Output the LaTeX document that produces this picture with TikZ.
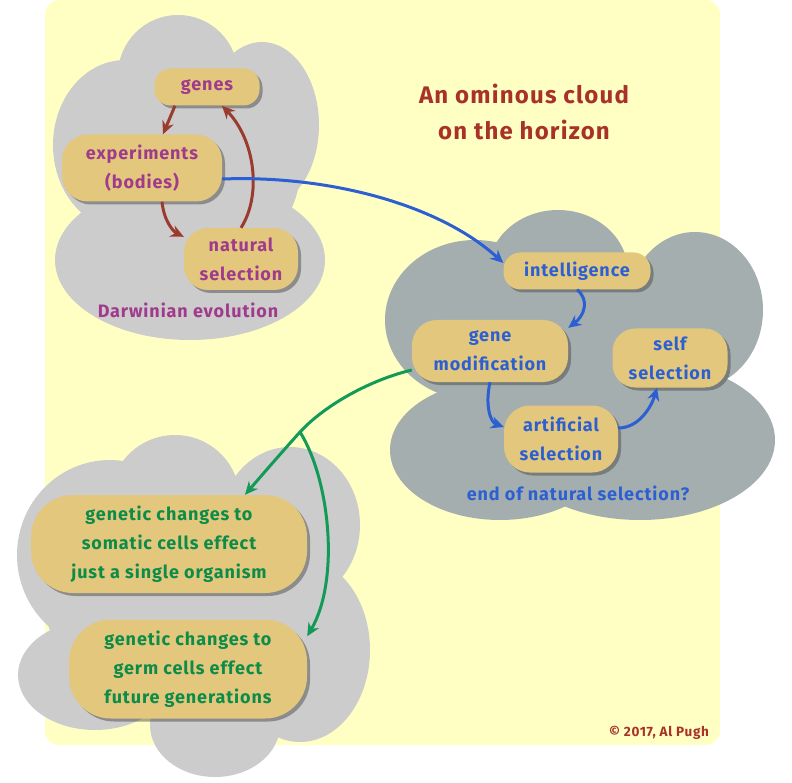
\documentclass[tikz,border=0pt]{standalone}
\usepackage{fontspec}
\setmainfont{Fira Sans}[LetterSpace=5]
\usetikzlibrary{arrows.meta}
\usetikzlibrary{shadows}

\definecolor{paper}{RGB}{255,255,195}
\definecolor{cloudgray}{RGB}{204,204,204}
\definecolor{cloudslate}{RGB}{165,174,174}
\definecolor{boxtan}{RGB}{227,199,125}
\definecolor{darwpurple}{RGB}{160,58,140}
\definecolor{titlered}{RGB}{168,50,42}
\definecolor{darwbrown}{RGB}{155,59,46}
\definecolor{intelblue}{RGB}{44,96,210}
\definecolor{genegreen}{RGB}{12,140,72}
\definecolor{linkgreen}{RGB}{19,154,86}

\tikzset{
  cell/.style={fill=boxtan, align=center, inner sep=0pt,
    font=\bfseries\fontsize{18}{29}\selectfont,
    drop shadow={shadow xshift=3pt, shadow yshift=-3pt, opacity=0.45, fill=black!75}},
  caption/.style={font=\bfseries\fontsize{18}{29}\selectfont},
  darwlink/.style={draw=darwbrown, line width=3pt, -{Stealth[length=13pt,width=12pt]}},
  intellink/.style={draw=intelblue, line width=3pt, -{Stealth[length=13pt,width=12pt]}},
  genelink/.style={draw=linkgreen, line width=3pt, -{Stealth[length=13pt,width=12pt]}}
}

\begin{document}
\begin{tikzpicture}[x=1pt, y=-1pt]
\useasboundingbox (0,0) rectangle (792,783);

% background sheet
\fill[paper, rounded corners=14pt] (45,0) rectangle (720,745);

% cloud of Darwinian evolution
\fill[cloudgray] (178,75) ellipse [x radius=60, y radius=60];
\fill[cloudgray] (262,125) ellipse [x radius=57, y radius=83];
\fill[cloudgray] (125,145) ellipse [x radius=72, y radius=85];
\fill[cloudgray] (190,260) ellipse [x radius=135, y radius=80];
\fill[cloudgray] (190,170) ellipse [x radius=110, y radius=100];

% the ominous cloud
\fill[cloudslate] (558,272) ellipse [x radius=70, y radius=62];
\fill[cloudslate] (695,310) ellipse [x radius=68, y radius=78];
\fill[cloudslate] (475,320) ellipse [x radius=90, y radius=80];
\fill[cloudslate] (640,440) ellipse [x radius=135, y radius=80];
\fill[cloudslate] (500,450) ellipse [x radius=110, y radius=70];
\fill[cloudslate] (580,360) ellipse [x radius=150, y radius=100];

% cloud of genetic changes
\fill[cloudgray] (175,500) ellipse [x radius=65, y radius=65];
\fill[cloudgray] (290,525) ellipse [x radius=70, y radius=78];
\fill[cloudgray] (110,555) ellipse [x radius=93, y radius=95];
\fill[cloudgray] (300,650) ellipse [x radius=70, y radius=92];
\fill[cloudgray] (95,675) ellipse [x radius=77, y radius=55];
\fill[cloudgray] (215,725) ellipse [x radius=65, y radius=52];
\fill[cloudgray] (195,600) ellipse [x radius=150, y radius=120];

% Darwinian loop
\node[cell, text=darwpurple, minimum width=105pt, minimum height=37pt, rounded corners=16pt] (genes) at (207,87) {genes};
\node[cell, text=darwpurple, minimum width=160pt, minimum height=67pt, rounded corners=26pt] (exper) at (142,168) {experiments\\(bodies)};
\node[cell, text=darwpurple, minimum width=114pt, minimum height=62pt, rounded corners=24pt] (natsel) at (241,259) {natural\\selection};
\node[caption, text=darwpurple] (darwin) at (188,310) {Darwinian evolution};

\node[font=\bfseries\fontsize{24}{36}\selectfont, text=titlered, align=center] (title) at (524,112) {An ominous cloud\\on the horizon};

% intelligence loop
\node[cell, text=intelblue, minimum width=147pt, minimum height=37pt, rounded corners=17pt] (intel) at (577,271) {intelligence};
\node[cell, text=intelblue, minimum width=156pt, minimum height=62pt, rounded corners=25pt] (genemod) at (490,351) {gene\\modification};
\node[cell, text=intelblue, minimum width=115pt, minimum height=59pt, rounded corners=23pt] (selfsel) at (670,358) {self\\selection};
\node[cell, text=intelblue, minimum width=114pt, minimum height=67pt, rounded corners=26pt] (artsel) at (561,439) {artificial\\selection};
\node[caption, text=intelblue] (endsel) at (578,493) {end of natural selection?};

% genetic changes
\node[cell, text=genegreen, minimum width=276pt, minimum height=98pt, rounded corners=42pt] (soma) at (169,544) {genetic changes to\\somatic cells effect\\just a single organism};
\node[cell, text=genegreen, minimum width=238pt, minimum height=99pt, rounded corners=42pt] (germ) at (188,669) {genetic changes to\\germ cells effect\\future generations};

\node[font=\bfseries\fontsize{13.5}{16}\selectfont, text=titlered] (credit) at (659,733) {\textcopyright{} 2017, Al Pugh};

% connectors
\draw[darwlink] ([xshift=-32pt]genes.south) -- ([xshift=21pt]exper.north);
\draw[darwlink] ([xshift=20pt]exper.south) .. controls (164,222) and (174,232) .. ([yshift=-9pt]natsel.north west);
\draw[darwlink] (natsel.north) .. controls (262,195) and (255,140) .. ([xshift=15pt]genes.south);

\draw[intellink] ([yshift=-11pt]exper.east) .. controls (330,175) and (440,205) .. ([yshift=8pt]intel.west);
\draw[intellink] (intel.south) .. controls (590,300) and (584,316) .. ([yshift=-8pt]genemod.north east);
\draw[intellink] (genemod.south) .. controls (485,405) and (490,422) .. ([yshift=12pt]artsel.west);
\draw[intellink] ([yshift=11pt]artsel.east) .. controls (640,428) and (652,405) .. ([xshift=-13pt]selfsel.south);

\coordinate (split) at (300,432);
\draw[genelink] ([yshift=-19pt]genemod.west) .. controls (370,380) and (325,405) .. (split) .. controls (282,452) and (262,475) .. ([xshift=76pt]soma.north);
\draw[genelink] (split) .. controls (330,480) and (340,580) .. ([yshift=-17pt]germ.north east);

\end{tikzpicture}
\end{document}
